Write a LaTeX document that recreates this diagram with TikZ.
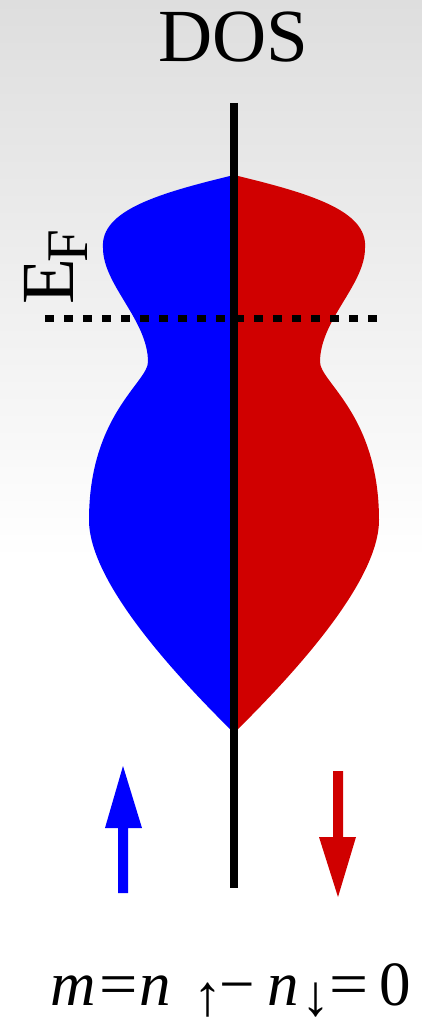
\documentclass[tikz,border=0pt]{standalone}
\usepackage{fontspec}
\setmainfont{Liberation Serif}
\definecolor{bgtop}{RGB}{222,222,222}
\definecolor{spinup}{RGB}{0,0,255}
\definecolor{spindn}{RGB}{208,0,0}
\newcommand\dosHalfPath{(234,175) .. controls (160,193) and (100,210) .. (103,248)
  .. controls (103,285) and (148,320) .. (148,362)
  .. controls (148,382) and (89,415) .. (89,520)
  .. controls (89,580) and (170,670) .. (234,733) -- cycle}
\newcommand\subArrow[1]{\makebox[0pt][l]{\raisebox{-10pt}[0pt][0pt]{\fontsize{58}{62}\selectfont #1}}}
\tikzset{
  txt/.style={inner sep=0pt, outer sep=0pt},
  axisline/.style={line width=8pt},
  fermiline/.style={line width=7pt, dash pattern=on 9pt off 10pt},
}
\begin{document}
\begin{tikzpicture}[x=1pt,y=-1pt]
\useasboundingbox (0,0) rectangle (422,1019);
\fill[white] (0,0) rectangle (422,1019);
\shade[top color=bgtop, bottom color=white] (0,0) rectangle (422,560);
% DOS halves
\fill[spinup] \dosHalfPath;
\begin{scope}[shift={(468,0)}, xscale=-1]
\fill[spindn] \dosHalfPath;
\end{scope}
% Fermi level
\coordinate (efl) at (45,318);
\coordinate (efr) at (378,318);
\draw[fermiline] (efl) -- (efr);
% axis
\coordinate (axtop) at (234,103);
\coordinate (axbot) at (234,888);
\draw[axisline] (axtop) -- (axbot);
% spin arrows
\fill[spinup] (118,893) -- (118,828) -- (105,828) -- (123,766) -- (142,828) -- (128,828) -- (128,893) -- cycle;
\fill[spindn] (333,771) -- (333,837) -- (319,837) -- (338,897) -- (356,837) -- (343,837) -- (343,771) -- cycle;
% texts
\node[txt, anchor=base, font=\fontsize{75}{80}\selectfont] (dos) at (233.5,62) {DOS};
\node[txt, rotate=90, anchor=base west, font=\fontsize{75}{80}\selectfont] (ef) at (73,304)
  {E\kern-4pt\raisebox{-14pt}{\fontsize{59}{60}\selectfont F}};
\node[txt, anchor=base west, text depth=0pt, font=\fontsize{63}{70}\selectfont] (eq) at (50,1005.5)
  {{\itshape m}\kern4.5pt\scalebox{1.08}[1]{=}\kern1pt{\itshape n}\kern22.5pt\subArrow{↑}\kern26pt−\kern12.5pt{\itshape n}\kern2.5pt\subArrow{↓}\kern28pt\scalebox{1.1}[1]{=}\kern11pt 0};
\end{tikzpicture}
\end{document}
